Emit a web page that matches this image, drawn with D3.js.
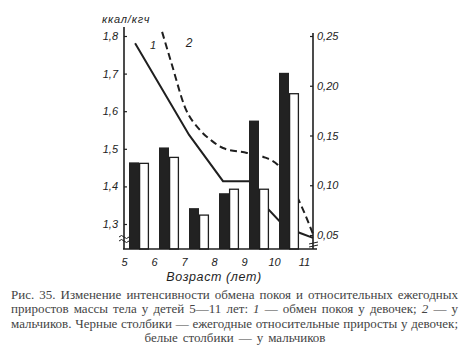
<!DOCTYPE html>
<html>
<head>
<meta charset="utf-8">
<script src="https://cdn.jsdelivr.net/npm/d3@7"></script>
<style>
  body { margin: 0; background: #fff; }
  svg { display: block; }
  .tick text { font-family: "Liberation Sans", sans-serif; font-style: italic; font-size: 11px; fill: #222; }
</style>
</head>
<body>
<div id="chart"></div>
<script>
// age intervals for the bars
const intervals = ["5-6", "6-7", "7-8", "8-9", "9-10", "10-11"];
// relative annual gains (right axis)
const girlsGain = [0.123, 0.138, 0.077, 0.092, 0.165, 0.213];
const boysGain = [0.122, 0.128, 0.070, 0.096, 0.096, 0.192];

// resting metabolism, ккал/кгч (left axis): 1 - girls, 2 - boys
const girlsAge = [5.37, 7.17, 8.3, 9.27, 9.8, 10.2, 10.87, 11.3];
const girlsRate = [1.781, 1.537, 1.414, 1.414, 1.340, 1.306, 1.276, 1.263];
const boysAge = [6.27, 6.6, 7.03, 7.53, 7.93, 8.3, 9.1, 9.63, 10.13, 10.93, 11.3];
const boysRate = [1.811, 1.723, 1.611, 1.550, 1.521, 1.502, 1.489, 1.479, 1.457, 1.345, 1.273];

const ages = [5, 6, 7, 8, 9, 10, 11];
const leftTicks = [1.3, 1.4, 1.5, 1.6, 1.7, 1.8];
const rightTicks = [0.05, 0.10, 0.15, 0.20, 0.25];

const captionLines = [
  "Рис. 35. Изменение интенсивности обмена покоя и относительных ежегодных",
  "приростов массы тела у детей 5—11 лет: *1 — обмен покоя у девочек; *2 — у",
  "мальчиков. Черные столбики — ежегодные относительные приросты у девочек;",
  "белые столбики — у мальчиков"
];

const W = 461, H = 353;
const svg = d3.select("#chart").append("svg")
  .attr("width", W).attr("height", H);

const ink = "#1f1f1f";
const baseY = 249;

// scales
const x = d3.scaleLinear().domain([5, 11]).range([124, 304]);
const yL = d3.scaleLinear().domain([1.3, 1.8]).range([224, 36]);
const yR = d3.scaleLinear().domain([0.05, 0.25]).range([235, 36]);

const xBand = d3.scaleBand().domain(intervals).range([124, 304])
  .paddingInner(1 / 3).paddingOuter(1 / 6);
const xSub = d3.scaleBand().domain(["girls", "boys"]).range([0, xBand.bandwidth()]);

// lines first, bars cover them
const line = d3.line().x(d => x(d[0])).y(d => yL(d[1]));
svg.append("path")
  .datum(girlsAge.map((a, i) => [a, girlsRate[i]]))
  .attr("d", line)
  .attr("fill", "none").attr("stroke", ink).attr("stroke-width", 2);
svg.append("path")
  .datum(boysAge.map((a, i) => [a, boysRate[i]]))
  .attr("d", line.curve(d3.curveMonotoneX))
  .attr("fill", "none").attr("stroke", ink).attr("stroke-width", 2)
  .attr("stroke-dasharray", "7,4");

// bars
const barData = intervals.map((k, i) => ({ key: k, girls: girlsGain[i], boys: boysGain[i] }));
const grp = svg.append("g").selectAll("g")
  .data(barData)
  .join("g")
  .attr("transform", d => `translate(${xBand(d.key)},0)`);
grp.selectAll("rect")
  .data(d => ["girls", "boys"].map(s => ({ s: s, v: d[s] })))
  .join("rect")
  .attr("x", d => xSub(d.s) + (d.s === "boys" ? 0.6 : 0))
  .attr("y", d => yR(d.v))
  .attr("width", d => d.s === "boys" ? xSub.bandwidth() - 1.2 : xSub.bandwidth())
  .attr("height", d => baseY - yR(d.v))
  .attr("fill", d => d.s === "girls" ? "#222" : "#fff")
  .attr("stroke", d => d.s === "girls" ? "none" : ink)
  .attr("stroke-width", 1.3);

// axes
const axL = svg.append("g").attr("transform", "translate(124,0)")
  .call(d3.axisLeft(yL).tickValues(leftTicks).tickSize(-3).tickPadding(6)
    .tickFormat(d => d3.format(".1f")(d).replace(".", ",")));
axL.select(".domain").remove();
const axR = svg.append("g").attr("transform", "translate(313,0)")
  .call(d3.axisRight(yR).tickValues(rightTicks).tickSize(-3).tickPadding(4)
    .tickFormat(d => d3.format(".2f")(d).replace(".", ",")));
axR.select(".domain").remove();
const axB = svg.append("g").attr("transform", `translate(0,${baseY})`)
  .call(d3.axisBottom(x).tickValues(ages).tickSize(0).tickPadding(9)
    .tickFormat(d => d));
axB.select(".domain").remove();
svg.selectAll(".tick line").attr("stroke", ink).attr("stroke-width", 1.2);

svg.append("line").attr("x1", 124).attr("x2", 124).attr("y1", 27).attr("y2", baseY)
  .attr("stroke", ink).attr("stroke-width", 1.6);
svg.append("line").attr("x1", 313).attr("x2", 313).attr("y1", 33).attr("y2", baseY)
  .attr("stroke", ink).attr("stroke-width", 1.6);
svg.append("line").attr("x1", 123).attr("x2", 317).attr("y1", baseY).attr("y2", baseY)
  .attr("stroke", ink).attr("stroke-width", 1.6);

// axis breaks
[236, 240].forEach(yy => {
  svg.append("path").attr("d", `M119,${yy + 1} q2.5,-3 5,0 t5,0`)
    .attr("fill", "none").attr("stroke", ink).attr("stroke-width", 1);
});
[243, 246].forEach(yy => {
  svg.append("line").attr("x1", 309).attr("x2", 318).attr("y1", yy + 1).attr("y2", yy - 1)
    .attr("stroke", ink).attr("stroke-width", 1);
});

// labels
const lab = (t, xx, yy, size, anchor) => svg.append("text")
  .attr("x", xx).attr("y", yy).attr("text-anchor", anchor || "start")
  .attr("font-family", "Liberation Sans, sans-serif").attr("font-style", "italic")
  .attr("font-size", size).attr("fill", ink).text(t);
lab("ккал/кгч", 102, 23, 11).attr("letter-spacing", 0.8);
lab("Возраст (лет)", 214, 281, 12.5, "middle").attr("letter-spacing", 0.6);
lab("1", 153, 49, 11, "middle");
lab("2", 189, 47, 12, "middle");

// caption, justified
const capX0 = 11, capX1 = 458;
captionLines.forEach((ln, i) => {
  const yy = 299 + i * 14.3;
  const words = ln.split(" ");
  const nodes = words.map(w => {
    const it = w.startsWith("*");
    return svg.append("text").attr("y", yy)
      .attr("font-family", "Liberation Serif, serif").attr("font-size", 13)
      .attr("font-style", it ? "italic" : "normal")
      .attr("fill", "#444").text(it ? w.slice(1) : w);
  });
  const widths = nodes.map(n => n.node().getComputedTextLength());
  const total = d3.sum(widths);
  let gap, start;
  if (i < captionLines.length - 1) {
    gap = (capX1 - capX0 - total) / (words.length - 1);
    start = capX0;
  } else {
    gap = 5;
    start = 235 - (total + gap * (words.length - 1)) / 2;
  }
  let cx = start;
  nodes.forEach((n, j) => { n.attr("x", cx); cx += widths[j] + gap; });
});
</script>
</body>
</html>
